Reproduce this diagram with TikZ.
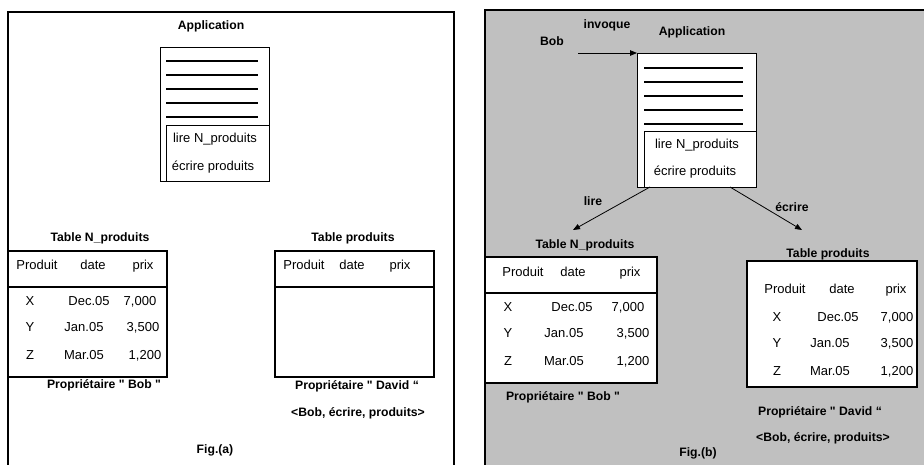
\documentclass[tikz,border=0pt]{standalone}
\usepackage{fontspec}
\setmainfont{Liberation Sans}[Ligatures=TeXOff]
\usetikzlibrary{arrows.meta}
\definecolor{panelgray}{RGB}{192,192,192}
\tikzset{
  txt/.style={inner sep=0pt, text height=9.5pt, text depth=2.5pt, font=\fontsize{13}{15}\selectfont},
  lbl/.style={inner sep=0pt, text height=9pt, text depth=2.5pt, font=\fontsize{12.2}{14}\selectfont\bfseries},
  frame/.style={line width=2.4pt},
  tbox/.style={draw, line width=1.3pt, fill=white},
  appbox/.style={draw, line width=0.9pt, fill=white},
  rule/.style={line width=1.2pt},
  flow/.style={line width=0.8pt, -{Triangle[length=7pt,width=5.5pt]}}
}
\begin{document}
\begin{tikzpicture}[x=1pt,y=-1pt]
\useasboundingbox (0,0) rectangle (924,464);
\fill[white] (0,0) rectangle (924,464);

% ---------------- panel (a) ----------------
\draw[frame] (8,470) -- (8,12) -- (454,12) -- (454,470);

\node[lbl] (appA) at (211,26) {Application};
\draw[appbox] (160,47) rectangle (269,181);
\foreach \y in {61,75,89,103,117} \draw[rule] (166,\y) -- (258,\y);
\draw[appbox] (166,125) rectangle (269,181);
\node[txt] (readA) at (215,139) {lire N\_produits};
\node[txt] (writeA) at (213,167) {écrire produits};

% Table N_produits (a)
\node[lbl] (tnA) at (100,238) {Table N\_produits};
\draw[tbox] (8,251) rectangle (167,377);
\draw[line width=1.1pt] (8,287) -- (167,287);
\node[txt] at (37,266) {Produit};
\node[txt] at (93,266) {date};
\node[txt] at (143,266) {prix};
\node[txt] at (30,302) {X};
\node[txt] at (89,302) {Dec.05};
\node[txt] at (140,302) {7,000};
\node[txt] at (30,328) {Y};
\node[txt] at (84,328) {Jan.05};
\node[txt] at (143,328) {3,500};
\node[txt] at (30,356) {Z};
\node[txt] at (84,356) {Mar.05};
\node[txt] at (145,356) {1,200};
\node[lbl] (ownA1) at (104,385) {Propriétaire " Bob "};

% Table produits (a)
\node[lbl] (tpA) at (353,238) {Table produits};
\draw[tbox] (275,251) rectangle (434,377);
\draw[line width=1.1pt] (275,287) -- (434,287);
\node[txt] at (304,266) {Produit};
\node[txt] at (352,266) {date};
\node[txt] at (400,266) {prix};
\node[lbl] (ownA2) at (357,386) {Propriétaire " David “};
\node[lbl] (aclA) at (358,413) {<Bob, écrire, produits>};

\node[lbl] (figA) at (215,450) {Fig.(a)};

% ---------------- panel (b) ----------------
\fill[panelgray] (485,10) rectangle (930,470);
\draw[frame] (485,470) -- (485,10) -- (930,10);

\node[lbl] (bob) at (552,42) {Bob};
\node[lbl] (inv) at (607,25) {invoque};
\node[lbl] (appB) at (692,32) {Application};
\draw[appbox] (637,53) rectangle (756,187);
\foreach \y in {68,82,96,110,124} \draw[rule] (644,\y) -- (743,\y);
\draw[appbox] (644,131) rectangle (756,187);
\node[txt] (readB) at (697,145) {lire N\_produits};
\node[txt] (writeB) at (695,172) {écrire produits};

\coordinate (bobEnd) at (578,53);
\coordinate (appCorner) at (637,53);
\draw[flow] (bobEnd) -- (appCorner);

% Table N_produits (b)
\node[lbl] (tnB) at (585,245) {Table N\_produits};
\draw[tbox] (485,257) rectangle (657,383);
\draw[line width=1.1pt] (485,293) -- (657,293);
\node[txt] at (523,273) {Produit};
\node[txt] at (573,273) {date};
\node[txt] at (630,273) {prix};
\node[txt] at (508,308) {X};
\node[txt] at (572,308) {Dec.05};
\node[txt] at (628,308) {7,000};
\node[txt] at (508,334) {Y};
\node[txt] at (564,334) {Jan.05};
\node[txt] at (633,334) {3,500};
\node[txt] at (508,362) {Z};
\node[txt] at (564,362) {Mar.05};
\node[txt] at (633,362) {1,200};
\node[lbl] (ownB1) at (563,397) {Propriétaire " Bob "};

% Table produits (b)
\node[lbl] (tpB) at (828,254) {Table produits};
\draw[tbox] (747,261) rectangle (917,387);
\node[txt] at (785,290) {Produit};
\node[txt] at (842,290) {date};
\node[txt] at (896,290) {prix};
\node[txt] at (777,318) {X};
\node[txt] at (838,318) {Dec.05};
\node[txt] at (897,318) {7,000};
\node[txt] at (777,344) {Y};
\node[txt] at (830,344) {Jan.05};
\node[txt] at (897,344) {3,500};
\node[txt] at (777,372) {Z};
\node[txt] at (830,372) {Mar.05};
\node[txt] at (897,372) {1,200};
\node[lbl] (ownB2) at (820,412) {Propriétaire " David “};
\node[lbl] (aclB) at (823,438) {<Bob, écrire, produits>};

% access arrows from the application
\coordinate (readOut) at (650,187);
\coordinate (readIn) at (573,230);
\coordinate (writeOut) at (730,187);
\coordinate (writeIn) at (802,230);
\draw[flow] (readOut) -- (readIn);
\draw[flow] (writeOut) -- (writeIn);
\node[lbl] (lire) at (593,202) {lire};
\node[lbl] (ecrire) at (792,208) {écrire};

\node[lbl] (figB) at (698,453) {Fig.(b)};
\end{tikzpicture}
\end{document}
